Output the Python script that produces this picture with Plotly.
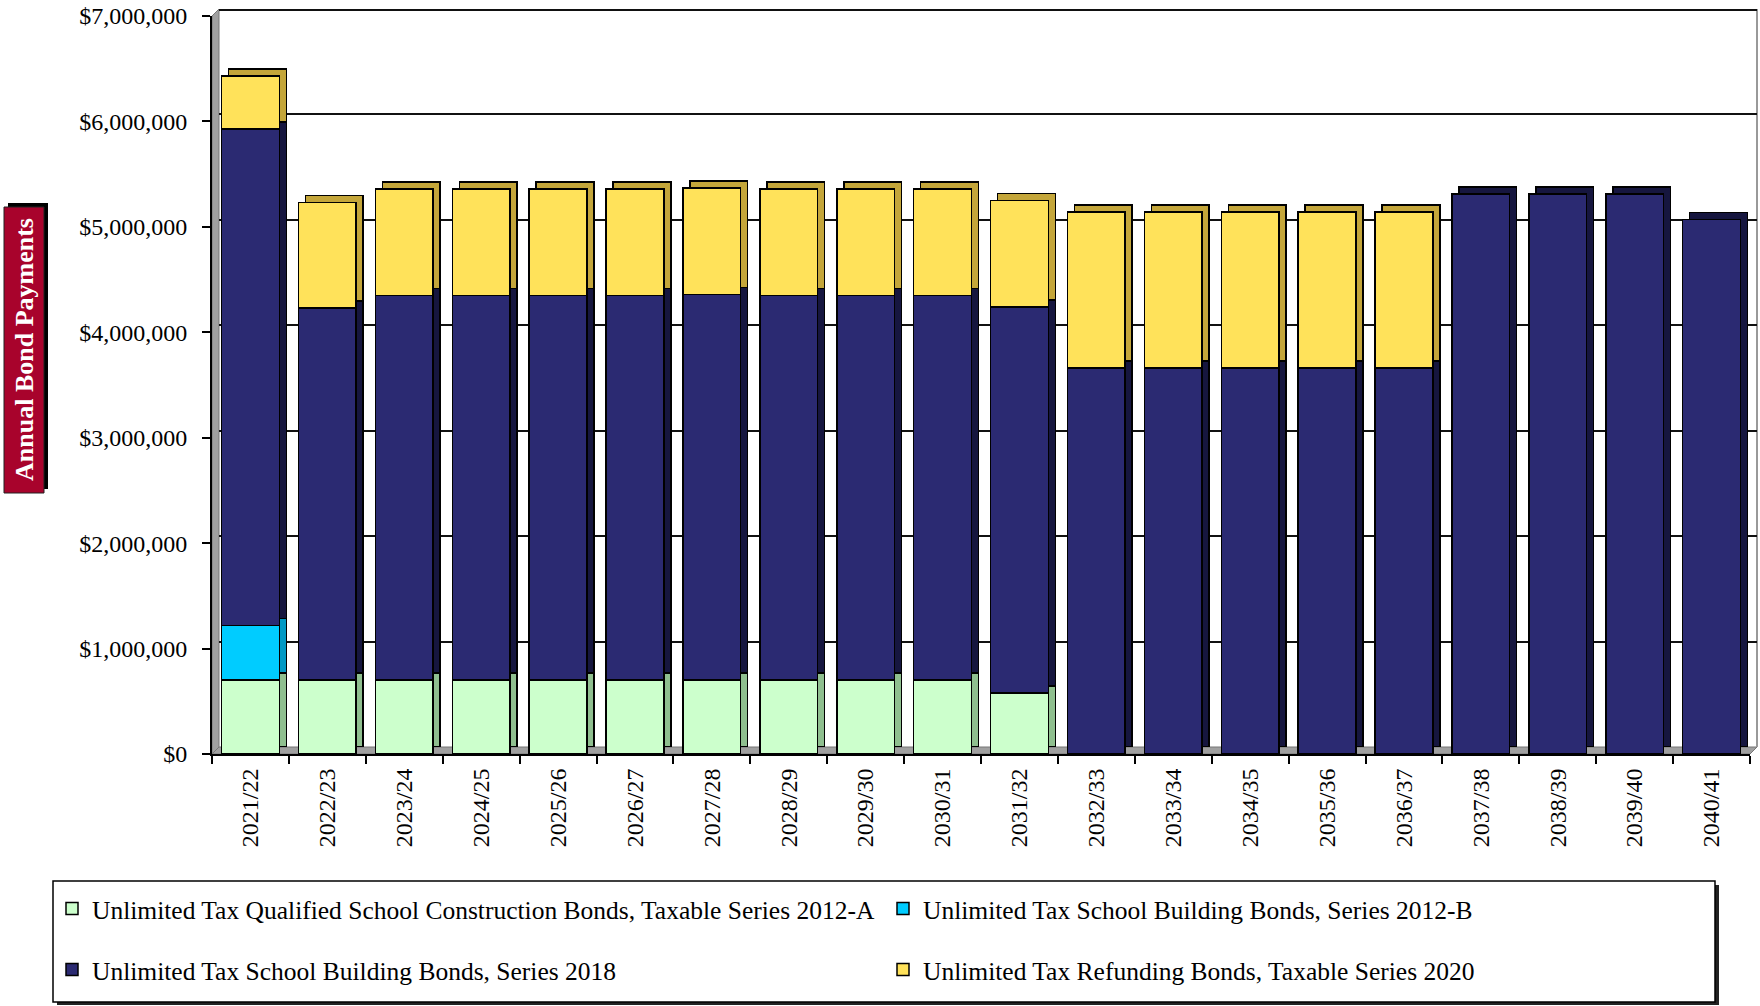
import plotly.graph_objects as go

years = ["2021/22", "2022/23", "2023/24", "2024/25", "2025/26", "2026/27", "2027/28",
         "2028/29", "2029/30", "2030/31", "2031/32", "2032/33", "2033/34", "2034/35",
         "2035/36", "2036/37", "2037/38", "2038/39", "2039/40", "2040/41"]

series_names = [
    "Unlimited Tax Qualified School Construction Bonds, Taxable Series 2012-A",
    "Unlimited Tax School Building Bonds, Series 2012-B",
    "Unlimited Tax School Building Bonds, Series 2018",
    "Unlimited Tax Refunding Bonds, Taxable Series 2020",
]

qscb_2012a = [700000, 700000, 700000, 700000, 700000, 700000, 700000, 700000, 700000, 700000,
              580000, 0, 0, 0, 0, 0, 0, 0, 0, 0]
bonds_2012b = [520000, 0, 0, 0, 0, 0, 0, 0, 0, 0,
               0, 0, 0, 0, 0, 0, 0, 0, 0, 0]
bonds_2018 = [4710000, 3530000, 3650000, 3650000, 3650000, 3650000, 3660000, 3650000, 3650000, 3650000,
              3660000, 3660000, 3660000, 3660000, 3660000, 3660000, 5310000, 5310000, 5310000, 5070000]
refunding_2020 = [500000, 1000000, 1010000, 1010000, 1010000, 1010000, 1010000, 1010000, 1010000, 1010000,
                  1010000, 1480000, 1480000, 1480000, 1480000, 1480000, 0, 0, 0, 0]

y_ticks = [0, 1000000, 2000000, 3000000, 4000000, 5000000, 6000000, 7000000]

front_colors = ["#CCFFCC", "#00CCFF", "#2B2A72", "#FFE25A"]
side_colors = ["#8FBF8F", "#0098C4", "#16163F", "#C4A63A"]
series_values = [qscb_2012a, bonds_2012b, bonds_2018, refunding_2020]
legends = ["legend", "legend", "legend2", "legend2"]

W, H = 1760, 1006
L, R, T, B = 212, 3, 9, 252
PW, PH = W - L - R, H - T - B
D = 7  # depth offset in px


def px(x):
    return (x - L) / PW


def py(y):
    return (H - B - y) / PH


FONT = "Liberation Serif, Times New Roman, serif"

fig = go.Figure()

# back (depth) copies
for vals, col in zip(series_values, side_colors):
    fig.add_trace(go.Bar(x=years, y=vals, marker=dict(color=col, line=dict(color="#000", width=1.5)),
                         xaxis="x", yaxis="y", showlegend=False, hoverinfo="skip"))
# front faces
for name, vals, col, lg in zip(series_names, series_values, front_colors, legends):
    fig.add_trace(go.Bar(x=years, y=vals, name=name, legend=lg,
                         marker=dict(color=col, line=dict(color="#000", width=1.5)),
                         xaxis="x2", yaxis="y2"))

shapes = [
    # left wall
    dict(type="path", xref="paper", yref="paper", layer="below",
         path=f"M {px(212)},{py(754)} L {px(212)},{py(16)} L {px(219)},{py(9)} L {px(219)},{py(747)} Z",
         fillcolor="#A0A0A0", line=dict(color="#777", width=1)),
    # floor
    dict(type="path", xref="paper", yref="paper", layer="below",
         path=f"M {px(212)},{py(754)} L {px(1750)},{py(754)} L {px(1757)},{py(747)} L {px(219)},{py(747)} Z",
         fillcolor="#A0A0A0", line=dict(color="#777", width=1)),
    # right wall edge
    dict(type="line", xref="paper", yref="paper", layer="below",
         x0=px(1757), x1=px(1757), y0=py(747), y1=py(9), line=dict(color="#999", width=2)),
    # top wall edge
    dict(type="line", xref="paper", yref="paper", layer="below",
         x0=px(219), x1=px(1757), y0=py(10), y1=py(10), line=dict(color="#111", width=2)),
    # title box shadow + box
    dict(type="rect", xref="paper", yref="paper", x0=px(8), x1=px(48), y0=py(489), y1=py(203),
         fillcolor="#000", line=dict(width=0)),
    dict(type="rect", xref="paper", yref="paper", x0=px(4), x1=px(44), y0=py(493), y1=py(207),
         fillcolor="#A8032C", line=dict(color="#222", width=1)),
    # legend box shadow + box
    dict(type="rect", xref="paper", yref="paper", x0=px(57), x1=px(1719), y0=py(1005), y1=py(885),
         fillcolor="#222", line=dict(width=0)),
    dict(type="rect", xref="paper", yref="paper", x0=px(53), x1=px(1715), y0=py(1002), y1=py(881),
         fillcolor="#FFFFFF", line=dict(color="#000", width=1.5)),
]

fig.update_layout(
    width=W, height=H,
    margin=dict(l=L, r=R, t=T, b=B, pad=0, autoexpand=False),
    paper_bgcolor="#FFFFFF", plot_bgcolor="rgba(0,0,0,0)",
    barmode="stack", bargap=0.25,
    font=dict(family=FONT, size=24, color="#000"),
    xaxis=dict(type="category", range=[-0.5, 19.5], domain=[D / PW, 1], anchor="y",
               showticklabels=False, showgrid=False, zeroline=False, showline=False, ticks=""),
    yaxis=dict(range=[0, 7000000], domain=[D / PH, 1], anchor="x", tickvals=y_ticks,
               showticklabels=False, showgrid=True, gridcolor="#111", gridwidth=2,
               zeroline=False, showline=False, ticks=""),
    xaxis2=dict(type="category", range=[-0.5, 19.5], domain=[0, (PW - D) / PW], anchor="y2",
                tickangle=-90, ticks="outside", tickson="boundaries", ticklen=8, tickwidth=1.5,
                tickcolor="#000", showline=True, linecolor="#000", linewidth=2,
                showgrid=False, zeroline=False, tickfont=dict(size=24), ticklabelstandoff=3),
    yaxis2=dict(range=[0, 7000000], domain=[0, (PH - D) / PH], anchor="x2", tickvals=y_ticks,
                tickformat="$,.0f", ticks="outside", ticklen=8, tickwidth=1.5, tickcolor="#000",
                showline=True, linecolor="#000", linewidth=2, showgrid=False, zeroline=False,
                tickfont=dict(size=24), ticklabelstandoff=10),
    legend=dict(orientation="h", x=px(52), xanchor="left", y=py(909), yanchor="middle",
                entrywidth=786, entrywidthmode="pixels", bgcolor="rgba(0,0,0,0)",
                font=dict(size=25.5), itemwidth=30, traceorder="normal"),
    legend2=dict(orientation="h", x=px(52), xanchor="left", y=py(970), yanchor="middle",
                 entrywidth=786, entrywidthmode="pixels", bgcolor="rgba(0,0,0,0)",
                 font=dict(size=25.5), itemwidth=30, traceorder="normal"),
    shapes=shapes,
    annotations=[dict(text="<b>Annual Bond Payments</b>", xref="paper", yref="paper",
                      x=px(24), y=py(350), xanchor="center", yanchor="middle",
                      textangle=-90, showarrow=False,
                      font=dict(family=FONT, size=26, color="#FFFFFF"))],
)

fig.write_html("out.html")
